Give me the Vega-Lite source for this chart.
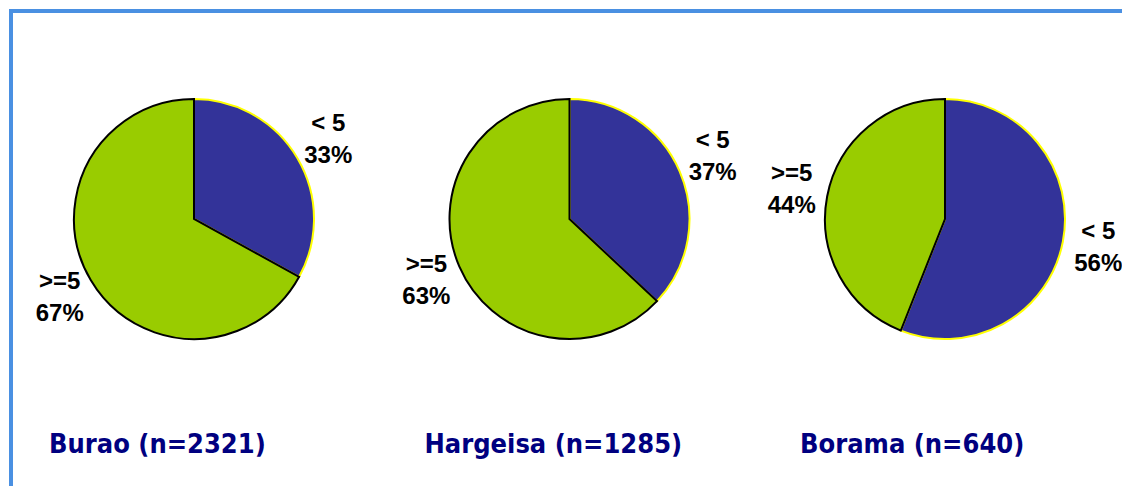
{
  "$schema": "https://vega.github.io/schema/vega-lite/v6.json",
  "padding": {"left": 8, "top": 8, "right": 0, "bottom": 0},
  "background": "white",
  "config": {"view": {"stroke": null}, "font": "Liberation Sans"},
  "datasets": {
    "slices": [
      {"city": "Burao", "n": 2321, "age": "< 5", "share": 0.33},
      {"city": "Burao", "n": 2321, "age": ">=5", "share": 0.67},
      {"city": "Hargeisa", "n": 1285, "age": "< 5", "share": 0.37},
      {"city": "Hargeisa", "n": 1285, "age": ">=5", "share": 0.63},
      {"city": "Borama", "n": 640, "age": "< 5", "share": 0.56},
      {"city": "Borama", "n": 640, "age": ">=5", "share": 0.44}
    ],
    "cities": [
      {"city": "Burao", "title": "Burao (n=2321)"},
      {"city": "Hargeisa", "title": "Hargeisa (n=1285)"},
      {"city": "Borama", "title": "Borama (n=640)"}
    ]
  },
  "spacing": 0,
  "bounds": "flush",
  "vconcat": [
    {
      "width": 1110,
      "height": 416,
      "view": {"stroke": "#4a90e2", "strokeWidth": 4, "strokeDash": [1110, 1526, 416], "strokeCap": "square"},
      "data": {"name": "slices"},
      "encoding": {
        "x": {"field": "city", "type": "nominal", "sort": ["Burao", "Hargeisa", "Borama"], "scale": {"type": "point", "padding": 0, "range": [183, 934]}, "axis": null},
        "theta": {"field": "share", "type": "quantitative", "stack": true, "scale": {"domain": [0, 1]}},
        "radius": {"field": "n", "type": "quantitative", "scale": {"type": "linear", "domain": [0, 640], "clamp": true, "range": [0, 120]}},
        "order": {"field": "age", "type": "nominal", "sort": "ascending"}
      },
      "layer": [
        {
          "mark": {"type": "arc", "strokeWidth": 2},
          "encoding": {
            "color": {"field": "age", "type": "nominal", "scale": {"domain": ["< 5", ">=5"], "range": ["#333399", "#99cc00"]}, "legend": null},
            "stroke": {"field": "age", "type": "nominal", "scale": {"domain": ["< 5", ">=5"], "range": ["#ffff00", "#000000"]}, "legend": null}
          }
        },
        {
          "mark": {"type": "text", "radiusOffset": 36, "dy": -16, "fontSize": 24, "fontWeight": "bold", "font": "Liberation Sans", "color": "#000000"},
          "encoding": {"text": {"field": "age", "type": "nominal"}}
        },
        {
          "mark": {"type": "text", "radiusOffset": 36, "dy": 16, "fontSize": 24, "fontWeight": "bold", "font": "Liberation Sans", "color": "#000000"},
          "encoding": {"text": {"field": "share", "type": "quantitative", "format": ".0%"}}
        }
      ]
    },
    {
      "width": 1110,
      "height": 58,
      "view": {"stroke": "#4a90e2", "strokeWidth": 4, "strokeDash": [0, 2278, 58], "strokeCap": "square"},
      "data": {"name": "cities"},
      "mark": {"type": "text", "align": "left", "baseline": "alphabetic", "dx": -145, "dy": -3, "font": "DejaVu Sans Condensed", "fontSize": 27, "fontWeight": "bold", "color": "#000080"},
      "encoding": {
        "x": {"field": "city", "type": "nominal", "sort": ["Burao", "Hargeisa", "Borama"], "scale": {"type": "point", "padding": 0, "range": [183, 934]}, "axis": null},
        "text": {"field": "title", "type": "nominal"}
      }
    }
  ]
}
